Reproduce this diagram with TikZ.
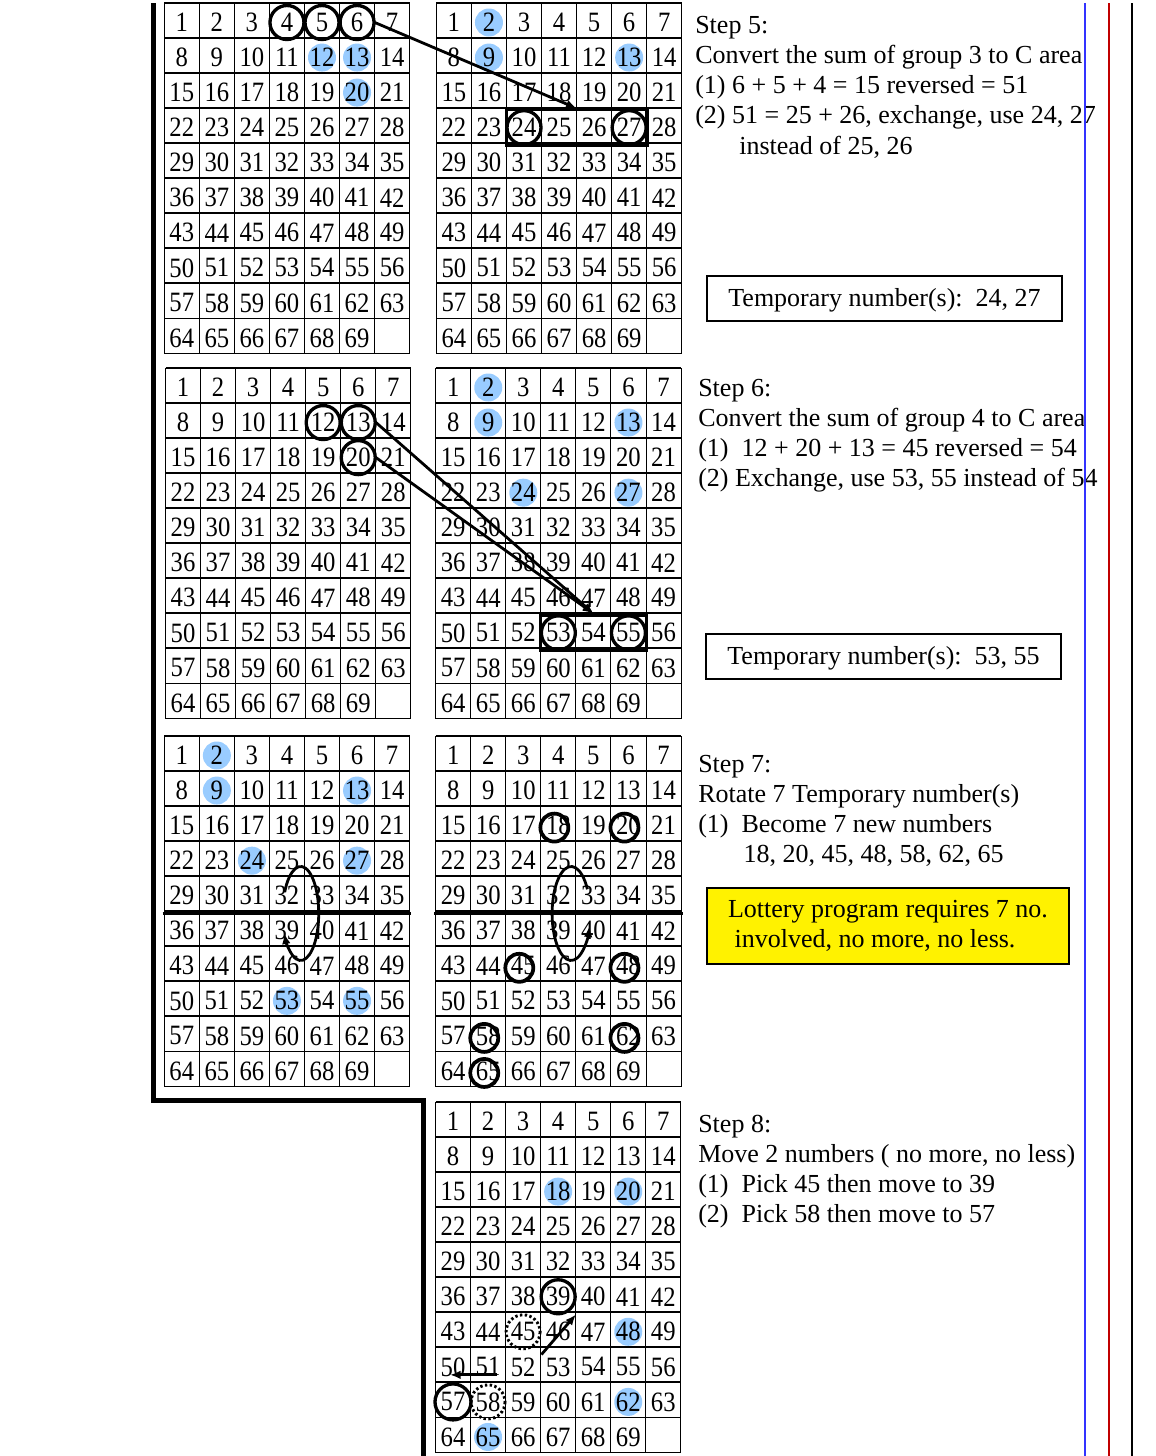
\documentclass[tikz,border=0pt]{standalone}
\usepackage{fontspec}
\setmainfont{Liberation Serif}
\newfontfamily\cellfont[FakeStretch=0.88]{Liberation Serif}
\usetikzlibrary{positioning,arrows.meta,calc,fit,backgrounds}

\definecolor{hlblue}{RGB}{153,204,255}
\definecolor{railblue}{RGB}{51,51,255}
\definecolor{railred}{RGB}{192,0,0}

\tikzset{
  cellnum/.style={inner sep=0pt, minimum width=26.25pt, minimum height=26.25pt,
    font=\cellfont\fontsize{21}{21}\selectfont},
  vline/.style={line width=0.75pt},
  hline/.style={line width=1.4pt},
  hl/.style={fill=hlblue},
  ring/.style={line width=2.5pt},
  smallring/.style={line width=2.8pt},
  dotring/.style={line width=2.2pt, dash pattern=on 1.8pt off 1.8pt},
  pickbox/.style={draw, line width=2.4pt, inner sep=0pt},
  arrowline/.style={-{Latex[length=8pt,width=6.5pt]}, line width=2.1pt},
  splitline/.style={line width=2.6pt, shorten <=-1pt, shorten >=-1pt},
  steptext/.style={anchor=north west, align=left, inner sep=0pt,
    font=\fontsize{19.5}{22.6}\selectfont},
  tempnote/.style={draw, line width=1.5pt, minimum width=266pt, minimum height=33.75pt,
    text height=14pt, text depth=2.5pt, font=\fontsize{19.5}{22.5}\selectfont},
  rulenote/.style={draw, line width=1.8pt, fill=yellow, align=left,
    minimum width=271.5pt, minimum height=57pt, font=\fontsize{19.5}{22.5}\selectfont},
}

% 7 x 10 grid of lottery numbers, nodes named #1-1 ... #1-69
\newcommand{\lottogrid}[3]{%
  \foreach \n in {1,...,69} {
    \pgfmathtruncatemacro{\gridc}{mod(\n-1,7)}
    \pgfmathtruncatemacro{\gridr}{div(\n-1,7)}
    \node[cellnum] (#1-\n) at ({#2+17.5+35.05*\gridc},{#3+19.5+35.05*\gridr}) {\n};
  }
  \foreach \i in {0,...,7}
    \draw[vline] ({#2+35.05*\i},#3) -- ({#2+35.05*\i},{#3+350.5});
  \foreach \j in {0,...,10}
    \draw[hline] (#2,{#3+35.05*\j}) -- ({#2+245.35},{#3+35.05*\j});
}

\begin{document}
\begin{tikzpicture}[x=0.75pt, y=-0.75pt]
\useasboundingbox (0,0) rectangle (1156,1456);
%
    \lottogrid{g1}{164.3}{3}
    \lottogrid{g2}{436.4}{3}
    \lottogrid{g3}{165.5}{368}
    \lottogrid{g4}{435.7}{368}
    \lottogrid{g5}{164.3}{736}
    \lottogrid{g6}{435.7}{736}
    \lottogrid{g8}{435.5}{1102}
%
    \begin{pgfonlayer}{background}
      \foreach \k in {12,13,20} \fill[hl] (g1-\k) circle (14);
      \foreach \k in {2,9,13} \fill[hl] (g2-\k) circle (14);
      \foreach \k in {2,9,13,24,27} \fill[hl] (g4-\k) circle (14);
      \foreach \k in {2,9,13,24,27,53,55} \fill[hl] (g5-\k) circle (14);
      \foreach \k in {18,20,48,62,65} \fill[hl] (g8-\k) circle (14);
    \end{pgfonlayer}
%
    % step 5
    \foreach \k in {4,5,6} \draw[ring] (g1-\k) circle (17);
    \node[pickbox, fit=(g2-24)(g2-27)] (pick5) {};
    \foreach \k in {24,27} \draw[ring] (g2-\k) circle (17);
    \draw[arrowline] (g1-6.east) -- (pick5.north);
%
    % step 6
    \foreach \k in {12,13,20} \draw[ring] (g3-\k) circle (17);
    \node[pickbox, fit=(g4-53)(g4-55)] (pick6) {};
    \foreach \k in {53,55} \draw[ring] (g4-\k) circle (17);
    \draw[arrowline] (g3-13.east) -- (pick6.north);
    \draw[arrowline] (g3-20.east) -- (pick6.north);
%
    % step 7
    \draw[splitline] (g5-29.south west) -- (g5-35.south east);
    \draw[splitline] (g6-29.south west) -- (g6-35.south east);
    \coordinate (spin5) at ([xshift=-3pt]g5-32.south east);
    \coordinate (spin6) at ([xshift=-3.75pt]g6-32.south east);
    \draw[arrowline] ([shift={(207:18 and 47)}]spin5)
      arc[start angle=207, end angle=515, x radius=18, y radius=47];
    \draw[arrowline] ([shift={(329:19 and 47)}]spin6)
      arc[start angle=329, end angle=16, x radius=19, y radius=47];
    \foreach \k in {18,20,45,48,58,62,65}
      \draw[smallring] ([shift={(-4,2)}]g6-\k) circle (14);
%
    % step 8
    \draw[ring] (g8-39) circle (17);
    \draw[ring] (g8-57) circle (18);
    \draw[dotring] (g8-45) circle (17);
    \draw[dotring] (g8-58) circle (17);
    \draw[arrowline] ([shift={(1,5)}]g8-46.south west) -- (g8-39.south east);
    \draw[arrowline] ([shift={(9,8)}]g8-51.center) -- ([shift={(-3,8)}]g8-50.center);
%
    \node[steptext] (step5) at (695,16) {Step 5:\\
      Convert the sum of group 3 to C area\\
      (1) 6 + 5 + 4 = 15 reversed = 51\\
      (2) 51 = 25 + 26, exchange, use 24, 27\\
      \hspace*{33pt}instead of 25, 26};
    \node[tempnote] (note5) at (884.5,298.5) {Temporary number(s):\ \ 24, 27};
    \node[steptext] (step6) at (698,379) {Step 6:\\
      Convert the sum of group 4 to C area\\
      (1)\ \ 12 + 20 + 13 = 45 reversed = 54\\
      (2) Exchange, use 53, 55 instead of 54};
    \node[tempnote] (note6) at (883.5,656.5) {Temporary number(s):\ \ 53, 55};
    \node[steptext] (step7) at (698,755) {Step 7:\\
      Rotate 7 Temporary number(s)\\
      (1)\ \ Become 7 new numbers\\
      \hspace*{34pt}18, 20, 45, 48, 58, 62, 65};
    \node[rulenote] (rule7) at (888,926) {Lottery program requires 7 no.\\
      \ involved, no more, no less.};
    \node[steptext] (step8) at (698,1115) {Step 8:\\
      Move 2 numbers ( no more, no less)\\
      (1)\ \ Pick 45 then move to 39\\
      (2)\ \ Pick 58 then move to 57};
%
    \draw[line width=3.75pt] (153,3) -- (153,1100) -- (423.5,1100) -- (423.5,1456);
    \draw[railblue, line width=1.5pt] (1085,3) -- (1085,1456);
    \draw[railred, line width=1.8pt] (1109,3) -- (1109,1456);
    \draw[line width=2.2pt] (1132,3) -- (1132,1456);
\end{tikzpicture}
\end{document}
